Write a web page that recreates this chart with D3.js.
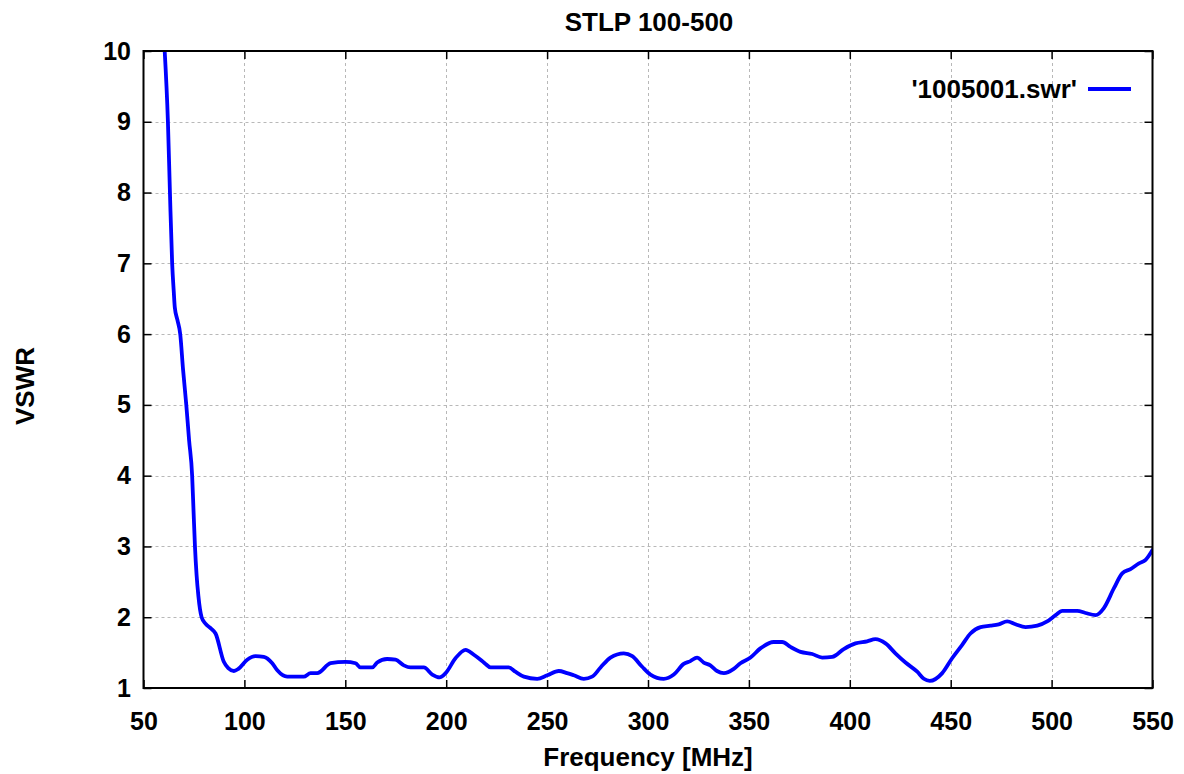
<!DOCTYPE html>
<html>
<head>
<meta charset="utf-8">
<script src="https://cdn.jsdelivr.net/npm/d3@7"></script>
<style>
  html, body { margin: 0; padding: 0; background: #fff; }
  svg { display: block; }
  text { font-family: "Liberation Sans", Arial, Helvetica, sans-serif; font-weight: bold; fill: #000; }
</style>
</head>
<body>
<svg id="chart" width="1184" height="774"></svg>
<script>
const title = "STLP 100-500";
const xLabel = "Frequency [MHz]";
const yLabel = "VSWR";
const seriesName = "'1005001.swr'";
const xTicks = [50, 100, 150, 200, 250, 300, 350, 400, 450, 500, 550];
const yTicks = [1, 2, 3, 4, 5, 6, 7, 8, 9, 10];

const freq = [60.5,62.1,63.1,64.2,65.0,65.5,66.8,68.2,69.6,71.2,72.6,74.1,74.8,75.5,76.3,77.2,78.8,80.7,83.5,85.7,
  89.8,92.0,94.8,97.0,101.4,105.5,109.6,113.8,116.3,121.2,129.4,132.8,136.1,142.7,150.1,155.1,157.5,163.3,165.8,170.7,
  174.9,179.0,182.3,188.9,193.1,196.7,199.7,204.6,209.6,213.7,217.0,219.5,222.0,231.0,234.3,238.5,245.1,250.1,255.8,259.9,
  263.2,268.2,272.3,276.5,281.4,288.0,292.2,297.1,301.2,307.8,312.8,317.7,321.0,324.3,327.6,330.9,334.2,337.6,342.5,345.8,
  350.8,355.7,362.3,366.5,370.6,375.6,381.4,386.3,391.3,397.0,402.8,408.6,412.7,417.7,422.6,427.6,433.4,436.7,439.6,445.8,
  450.7,455.7,459.8,464.8,469.7,473.8,478.0,482.1,487.1,492.9,497.8,502.0,505.3,512.7,516.8,521.8,525.9,530.9,535.0,539.1,
  543.3,546.6,550.0];
const vswr = [10.0,9.0,8.0,7.0,6.6,6.38,6.2,6.0,5.5,5.0,4.5,4.0,3.5,3.0,2.6,2.3,2.0,1.91,1.84,1.77,
  1.37,1.28,1.24,1.27,1.40,1.45,1.44,1.35,1.25,1.16,1.16,1.21,1.21,1.35,1.37,1.35,1.29,1.29,1.36,1.41,
  1.40,1.32,1.29,1.29,1.19,1.15,1.21,1.42,1.54,1.47,1.40,1.34,1.29,1.29,1.23,1.16,1.13,1.18,1.24,1.21,
  1.18,1.13,1.16,1.29,1.43,1.49,1.45,1.30,1.19,1.13,1.19,1.34,1.38,1.43,1.36,1.32,1.24,1.21,1.27,1.35,
  1.43,1.56,1.65,1.65,1.58,1.51,1.48,1.43,1.44,1.55,1.63,1.66,1.69,1.63,1.49,1.36,1.23,1.13,1.10,1.21,
  1.42,1.61,1.77,1.86,1.88,1.90,1.94,1.90,1.86,1.88,1.94,2.03,2.09,2.09,2.06,2.03,2.13,2.41,2.62,2.68,
  2.76,2.81,2.95];

const W = 1184, H = 774;
const m = { left: 143.5, right: 31.5, top: 51, bottom: 86 };
const svg = d3.select("#chart");

const x = d3.scaleLinear().domain([50, 550]).range([m.left, W - m.right]);
const y = d3.scaleLinear().domain([1, 10]).range([H - m.bottom, m.top]);

// Grid
const grid = svg.append("g").attr("stroke", "#b8b8b8").attr("stroke-width", 1).attr("stroke-dasharray", "3,3");
grid.selectAll("line.gx").data(xTicks.slice(1, -1)).join("line")
  .attr("x1", d => Math.round(x(d)) + 0.5).attr("x2", d => Math.round(x(d)) + 0.5)
  .attr("y1", m.top).attr("y2", H - m.bottom);
grid.selectAll("line.gy").data(yTicks.slice(1, -1)).join("line")
  .attr("y1", d => Math.round(y(d)) + 0.5).attr("y2", d => Math.round(y(d)) + 0.5)
  .attr("x1", m.left).attr("x2", W - m.right);

// Axes (ticks inward, mirrored)
const tl = 8;
const fs = 25;
const xb = d3.axisBottom(x).tickValues(xTicks).tickSize(-tl).tickPadding(24);
const xt = d3.axisTop(x).tickValues(xTicks).tickSize(-tl).tickFormat("");
const yl = d3.axisLeft(y).tickValues(yTicks).tickSize(-tl).tickPadding(12.5);
const yr = d3.axisRight(y).tickValues(yTicks).tickSize(-tl).tickFormat("");

function style(g) {
  g.select(".domain").remove();
  g.selectAll(".tick line").attr("stroke", "#000").attr("stroke-width", 1.5);
  g.selectAll(".tick text").attr("font-size", fs).attr("font-weight", "bold")
    .attr("font-family", "'Liberation Sans', Arial, sans-serif").attr("fill", "#000");
}
svg.append("g").attr("transform", `translate(0,${H - m.bottom})`).call(xb).call(style);
svg.append("g").attr("transform", `translate(0,${m.top})`).call(xt).call(style);
svg.append("g").attr("transform", `translate(${m.left},0)`).call(yl).call(style);
svg.append("g").attr("transform", `translate(${W - m.right},0)`).call(yr).call(style);

// Clip + line
svg.append("clipPath").attr("id", "clip").append("rect")
  .attr("x", m.left).attr("y", m.top).attr("width", W - m.left - m.right).attr("height", H - m.top - m.bottom);
const pts = freq.map((f, i) => [f, vswr[i]]);
svg.append("path").datum(pts)
  .attr("clip-path", "url(#clip)")
  .attr("fill", "none").attr("stroke", "#0000ff").attr("stroke-width", 3.8)
  .attr("stroke-linejoin", "round").attr("stroke-linecap", "round")
  .attr("d", d3.line().curve(d3.curveMonotoneX).x(d => x(d[0])).y(d => y(d[1])));

// Frame
svg.append("rect").attr("x", m.left).attr("y", m.top)
  .attr("width", W - m.left - m.right).attr("height", H - m.top - m.bottom)
  .attr("fill", "none").attr("stroke", "#000").attr("stroke-width", 2);

// Legend
svg.append("text").attr("x", 1077).attr("y", 98).attr("text-anchor", "end").attr("font-size", 26).text(seriesName);
svg.append("line").attr("x1", 1088).attr("x2", 1131).attr("y1", 89).attr("y2", 89)
  .attr("stroke", "#0000ff").attr("stroke-width", 3.8);

// Titles
svg.append("text").attr("x", 649).attr("y", 31).attr("text-anchor", "middle").attr("font-size", 26).text(title);
svg.append("text").attr("x", 648).attr("y", 766).attr("text-anchor", "middle").attr("font-size", 26).text(xLabel);
svg.append("text").attr("transform", "translate(34,386) rotate(-90)").attr("text-anchor", "middle").attr("font-size", 26).text(yLabel);
</script>
</body>
</html>
